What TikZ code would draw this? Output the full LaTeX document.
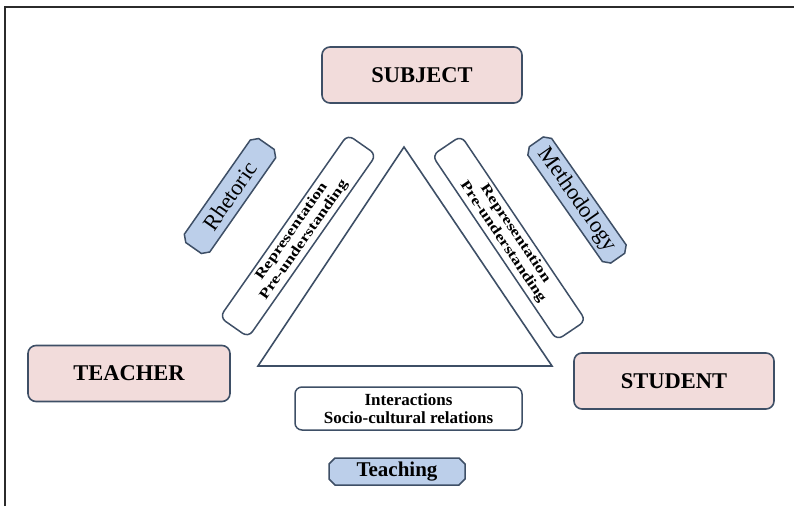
\documentclass[tikz,border=0pt]{standalone}
\usepackage{fontspec}
\setmainfont{Liberation Serif}
\usepackage{graphicx}
\usepackage{tikz}
\usetikzlibrary{shapes.misc}
\definecolor{EdgeSlate}{HTML}{3E4F66}
\definecolor{RolePink}{HTML}{F2DCDB}
\definecolor{PlaqueBlue}{HTML}{BCCFEA}
\definecolor{FrameGray}{HTML}{2B2B2B}
\newcommand{\widen}[1]{\scalebox{1.27}[1]{#1}}

\begin{document}
\begin{tikzpicture}[x=1pt, y=-1pt, node distance=63pt]
  \useasboundingbox (0,0) rectangle (794,506);
  \tikzstyle{role}=[rectangle, rounded corners=8pt, draw=EdgeSlate, line width=1.6pt, fill=RolePink,
  minimum width=200pt, minimum height=56pt, font=\fontsize{22.5}{24}\selectfont\bfseries]
  \tikzstyle{view}=[rectangle, rounded corners=7pt, draw=EdgeSlate, line width=1.5pt, fill=white,
  minimum width=223pt, minimum height=35pt, inner sep=0pt, align=center, font=\fontsize{14}{15}\selectfont\bfseries]
  \tikzstyle{plaque}=[chamfered rectangle, chamfered rectangle xsep=3pt, chamfered rectangle ysep=3pt,
  draw=EdgeSlate, line width=1.5pt, fill=PlaqueBlue, inner sep=0pt, font=\fontsize{22.5}{24}\selectfont]
  % corners of the frame and of the triangle
  \coordinate (framelow) at (5,506);
  \coordinate (framecorner) at (5,7);
  \coordinate (frameright) at (794,7);
  \coordinate (apex) at (404,147);
  \coordinate (baseleft) at (258,366);
  \coordinate (baseright) at (552,366);
  \draw[line width=1.8pt, color=FrameGray] (framelow) -- (framecorner) -- (frameright);
  \draw[line width=1.6pt, color=EdgeSlate] (apex) -- (baseleft) -- (baseright) -- cycle;
  % the three poles
  \node[role] (subject) at (422,75) {SUBJECT};
  \node[role, minimum width=202pt] (teacher) at (129,373.5) {TEACHER};
  \node[role] (student) at (674,381) {STUDENT};
  % the sides
  \node[view, rotate=55] (leftview) at (298,236) {\widen{Representation}\\\widen{Pre-understanding}};
  \node[view, rotate=-56] (rightview) at (509,238) {\widen{Representation}\\\widen{Pre-understanding}};
  \node[view, minimum width=227pt, minimum height=43pt, font=\fontsize{17}{17.5}\selectfont\bfseries] (interactions) at (408.5,408.5) {Interactions\\Socio-cultural relations};
  % the three labels
  \node[plaque, rotate=55, minimum width=127pt, minimum height=31pt] (rhetoric) at (230,196) {Rhetoric};
  \node[plaque, rotate=-55, minimum width=142pt, minimum height=29pt] (methodology) at (577,200) {Methodology};
  \node[plaque, below of=interactions, xshift=-11.5pt, minimum width=136pt, minimum height=27pt,
  font=\fontsize{21}{22}\selectfont\bfseries] (teaching) {Teaching};
\end{tikzpicture}
\end{document}
